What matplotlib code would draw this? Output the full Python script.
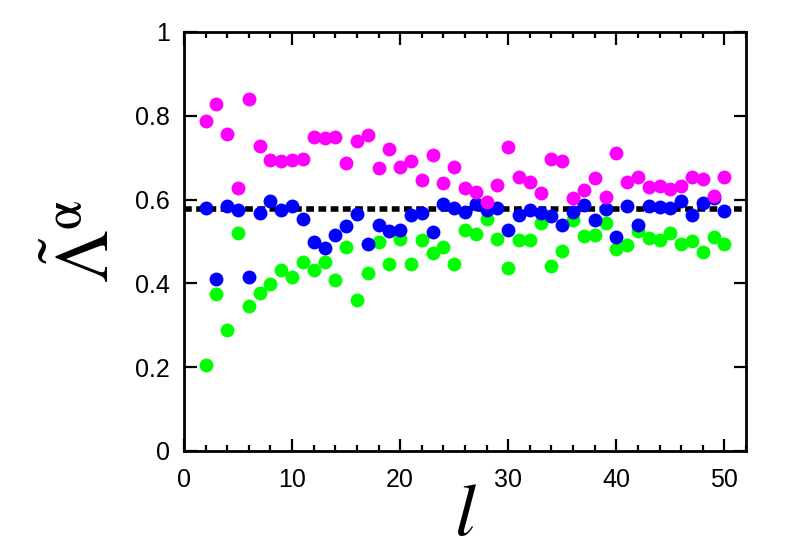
import numpy as np
import matplotlib
matplotlib.use("Agg")
import matplotlib.pyplot as plt
from matplotlib.ticker import MultipleLocator, FormatStrFormatter

plt.rcParams['font.family'] = ['Liberation Sans', 'DejaVu Sans']
plt.rcParams['mathtext.fontset'] = 'stix'

l = np.arange(2, 51)

magenta = [0.787, 0.829, 0.756, 0.628, 0.839, 0.728, 0.694, 0.693, 0.694, 0.698,
           0.750, 0.748, 0.750, 0.687, 0.739, 0.755, 0.675, 0.721, 0.678, 0.692,
           0.647, 0.706, 0.639, 0.678, 0.627, 0.617, 0.595, 0.635, 0.726, 0.653,
           0.643, 0.615, 0.697, 0.691, 0.605, 0.622, 0.651, 0.607, 0.711, 0.643,
           0.653, 0.629, 0.633, 0.625, 0.632, 0.655, 0.649, 0.609, 0.653]

blue = [0.580, 0.411, 0.585, 0.575, 0.416, 0.569, 0.596, 0.574, 0.585, 0.554,
        0.499, 0.484, 0.516, 0.537, 0.565, 0.495, 0.540, 0.526, 0.527, 0.563,
        0.569, 0.522, 0.589, 0.579, 0.570, 0.589, 0.575, 0.581, 0.528, 0.563,
        0.575, 0.567, 0.562, 0.540, 0.570, 0.587, 0.551, 0.577, 0.510, 0.585,
        0.540, 0.585, 0.582, 0.579, 0.596, 0.563, 0.593, 0.604, 0.572]

green = [0.206, 0.375, 0.288, 0.521, 0.345, 0.376, 0.398, 0.433, 0.415, 0.450,
         0.431, 0.452, 0.409, 0.486, 0.361, 0.425, 0.498, 0.447, 0.506, 0.447,
         0.504, 0.473, 0.488, 0.447, 0.528, 0.517, 0.554, 0.507, 0.437, 0.504,
         0.503, 0.545, 0.442, 0.477, 0.551, 0.514, 0.516, 0.543, 0.483, 0.491,
         0.525, 0.508, 0.504, 0.521, 0.493, 0.501, 0.474, 0.510, 0.494]

ref_value = 1 / np.sqrt(3)

fig = plt.figure(figsize=(7.89, 5.54), dpi=100)
ax = fig.add_axes([184 / 789, 1 - 451 / 554, 562 / 789, 419 / 554])

ax.plot([0, 52], [ref_value, ref_value], color='black', lw=4,
        dashes=(1.4, 0.8), zorder=1)

ax.plot(l, green, 'o', color='#00ff00', ms=10, mec='none', zorder=2)
ax.plot(l, blue, 'o', color='#0000ff', ms=10, mec='none', zorder=3)
ax.plot(l, magenta, 'o', color='#ff00ff', ms=10, mec='none', zorder=4)

ax.set_xlim(0, 52)
ax.set_ylim(0, 1)
ax.xaxis.set_major_locator(MultipleLocator(10))
ax.xaxis.set_minor_locator(MultipleLocator(2))
ax.yaxis.set_major_locator(MultipleLocator(0.2))
ax.yaxis.set_major_formatter(FormatStrFormatter('%g'))

for s in ax.spines.values():
    s.set_linewidth(2)
ax.tick_params(which='both', direction='in', top=True, right=True, width=1.6,
               labelsize=18)
ax.tick_params(which='major', length=9)
ax.tick_params(which='minor', length=4)
ax.tick_params(axis='y', pad=10)
ax.tick_params(axis='x', pad=12)

ax.set_xlabel('$l$', fontsize=54, labelpad=-8)
ax.set_ylabel(r'$\tilde{\mathrm{\Lambda}}^{\mathrm{\alpha}}$', fontsize=54,
              labelpad=8)

fig.savefig('out.png', dpi=100)
